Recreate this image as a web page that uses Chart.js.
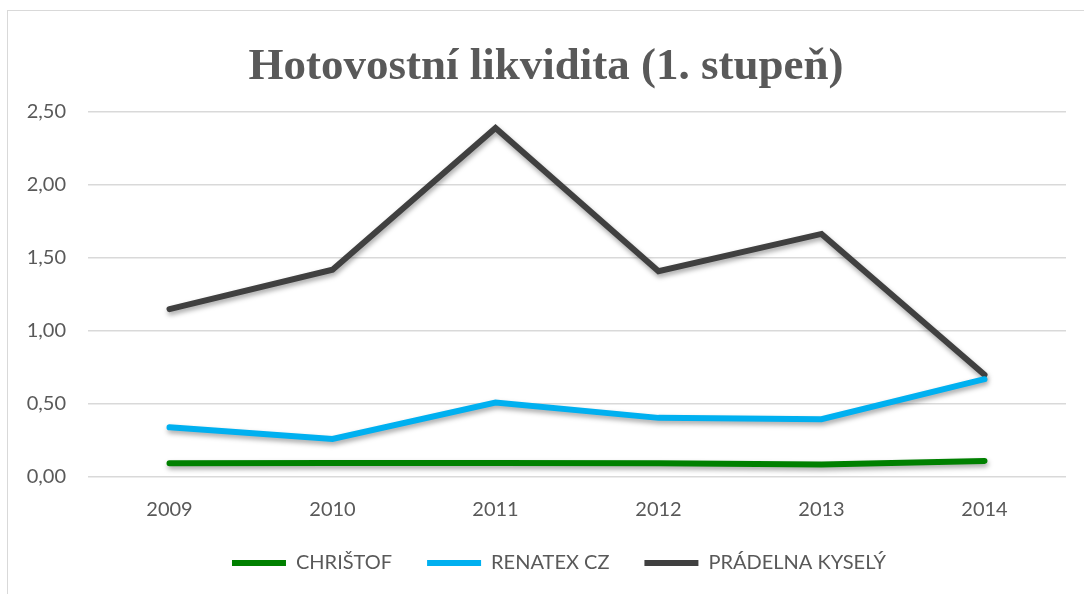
<!DOCTYPE html>
<html>
<head>
<meta charset="utf-8">
<script src="https://cdn.jsdelivr.net/npm/chart.js@4"></script>
<style>
    body { margin: 0; background: #ffffff; overflow: hidden; }
    #frame { position: absolute; left: 7px; top: 10px; width: 1100px; height: 600px; border-left: 1px solid #d9d9d9; border-top: 1px solid #d9d9d9; }
    #wrap { position: absolute; left: 0; top: 0; width: 1084px; height: 594px; }
</style>
</head>
<body>
<div id="frame"></div>
<div id="wrap"><canvas id="likviditaChart"></canvas></div>
<script>
const years = ['2009', '2010', '2011', '2012', '2013', '2014'];
const christof = [0.095, 0.096, 0.096, 0.094, 0.085, 0.11];
const renatex = [0.34, 0.26, 0.51, 0.405, 0.396, 0.67];
const pradelna = [1.15, 1.42, 2.39, 1.41, 1.665, 0.70];
const yTicks = [0, 0.5, 1, 1.5, 2, 2.5];

// soft drop shadow under each line, like the original
const lineShadow = {
    id: 'lineShadow',
    beforeDatasetDraw(chart) {
        let ctx = chart.ctx;
        ctx.save();
        ctx.shadowColor = 'rgba(0, 0, 0, 0.35)';
        ctx.shadowBlur = 5;
        ctx.shadowOffsetX = 1;
        ctx.shadowOffsetY = 3;
    },
    afterDatasetDraw(chart) {
        chart.ctx.restore();
    }
};

// legend sits a bit right of the centre in the original
const legendShift = {
    id: 'legendShift',
    afterLayout(chart) {
        chart.legend.left += 26;
    }
};

function makeSeries(label, values, color) {
    return {
        label: label,
        data: values,
        borderColor: color,
        backgroundColor: color,
        borderWidth: 6,
        borderCapStyle: 'round',
        borderJoinStyle: 'miter',
        pointRadius: 0,
        pointHoverRadius: 0,
        tension: 0
    };
}

let ctx = document.getElementById('likviditaChart');
new Chart(ctx, {
    type: 'line',
    data: {
        labels: years,
        datasets: [
            makeSeries('CHRIŠTOF', christof, '#008000'),
            makeSeries('RENATEX CZ', renatex, '#00b0f0'),
            makeSeries('PRÁDELNA KYSELÝ', pradelna, '#404040')
        ]
    },
    options: {
        responsive: true,
        maintainAspectRatio: false,
        animation: false,
        layout: {
            padding: { left: 26, right: 18, top: 0, bottom: 11 }
        },
        scales: {
            x: {
                offset: true,
                afterFit: (scale) => {
                    scale.height = 41;
                },
                grid: { display: false, drawTicks: false },
                border: { display: false },
                ticks: {
                    padding: 21,
                    color: '#595959',
                    font: { family: 'Lato', size: 20 }
                }
            },
            y: {
                min: 0,
                max: 2.5,
                afterBuildTicks: (scale) => {
                    scale.ticks = yTicks.map(v => ({ value: v }));
                },
                afterFit: (scale) => {
                    scale.width = 62;
                },
                grid: {
                    color: '#d9d9d9',
                    lineWidth: 1.5,
                    drawTicks: false
                },
                border: { display: false },
                ticks: {
                    padding: 22,
                    color: '#595959',
                    font: { family: 'Lato', size: 20 },
                    callback: (value) => value.toFixed(2).replace('.', ',')
                }
            }
        },
        plugins: {
            title: {
                display: true,
                text: 'Hotovostní likvidita (1. stupeň)',
                color: '#595959',
                font: { family: 'Liberation Serif', size: 45, weight: 'bold', lineHeight: 1.2 },
                padding: { top: 40, bottom: 18 }
            },
            legend: {
                position: 'bottom',
                labels: {
                    usePointStyle: true,
                    pointStyle: 'line',
                    pointStyleWidth: 54,
                    boxWidth: 54,
                    boxHeight: 18,
                    padding: 35,
                    color: '#595959',
                    font: { family: 'Lato', size: 20 }
                }
            },
            tooltip: { enabled: false }
        }
    },
    plugins: [lineShadow, legendShift]
});
</script>
</body>
</html>
